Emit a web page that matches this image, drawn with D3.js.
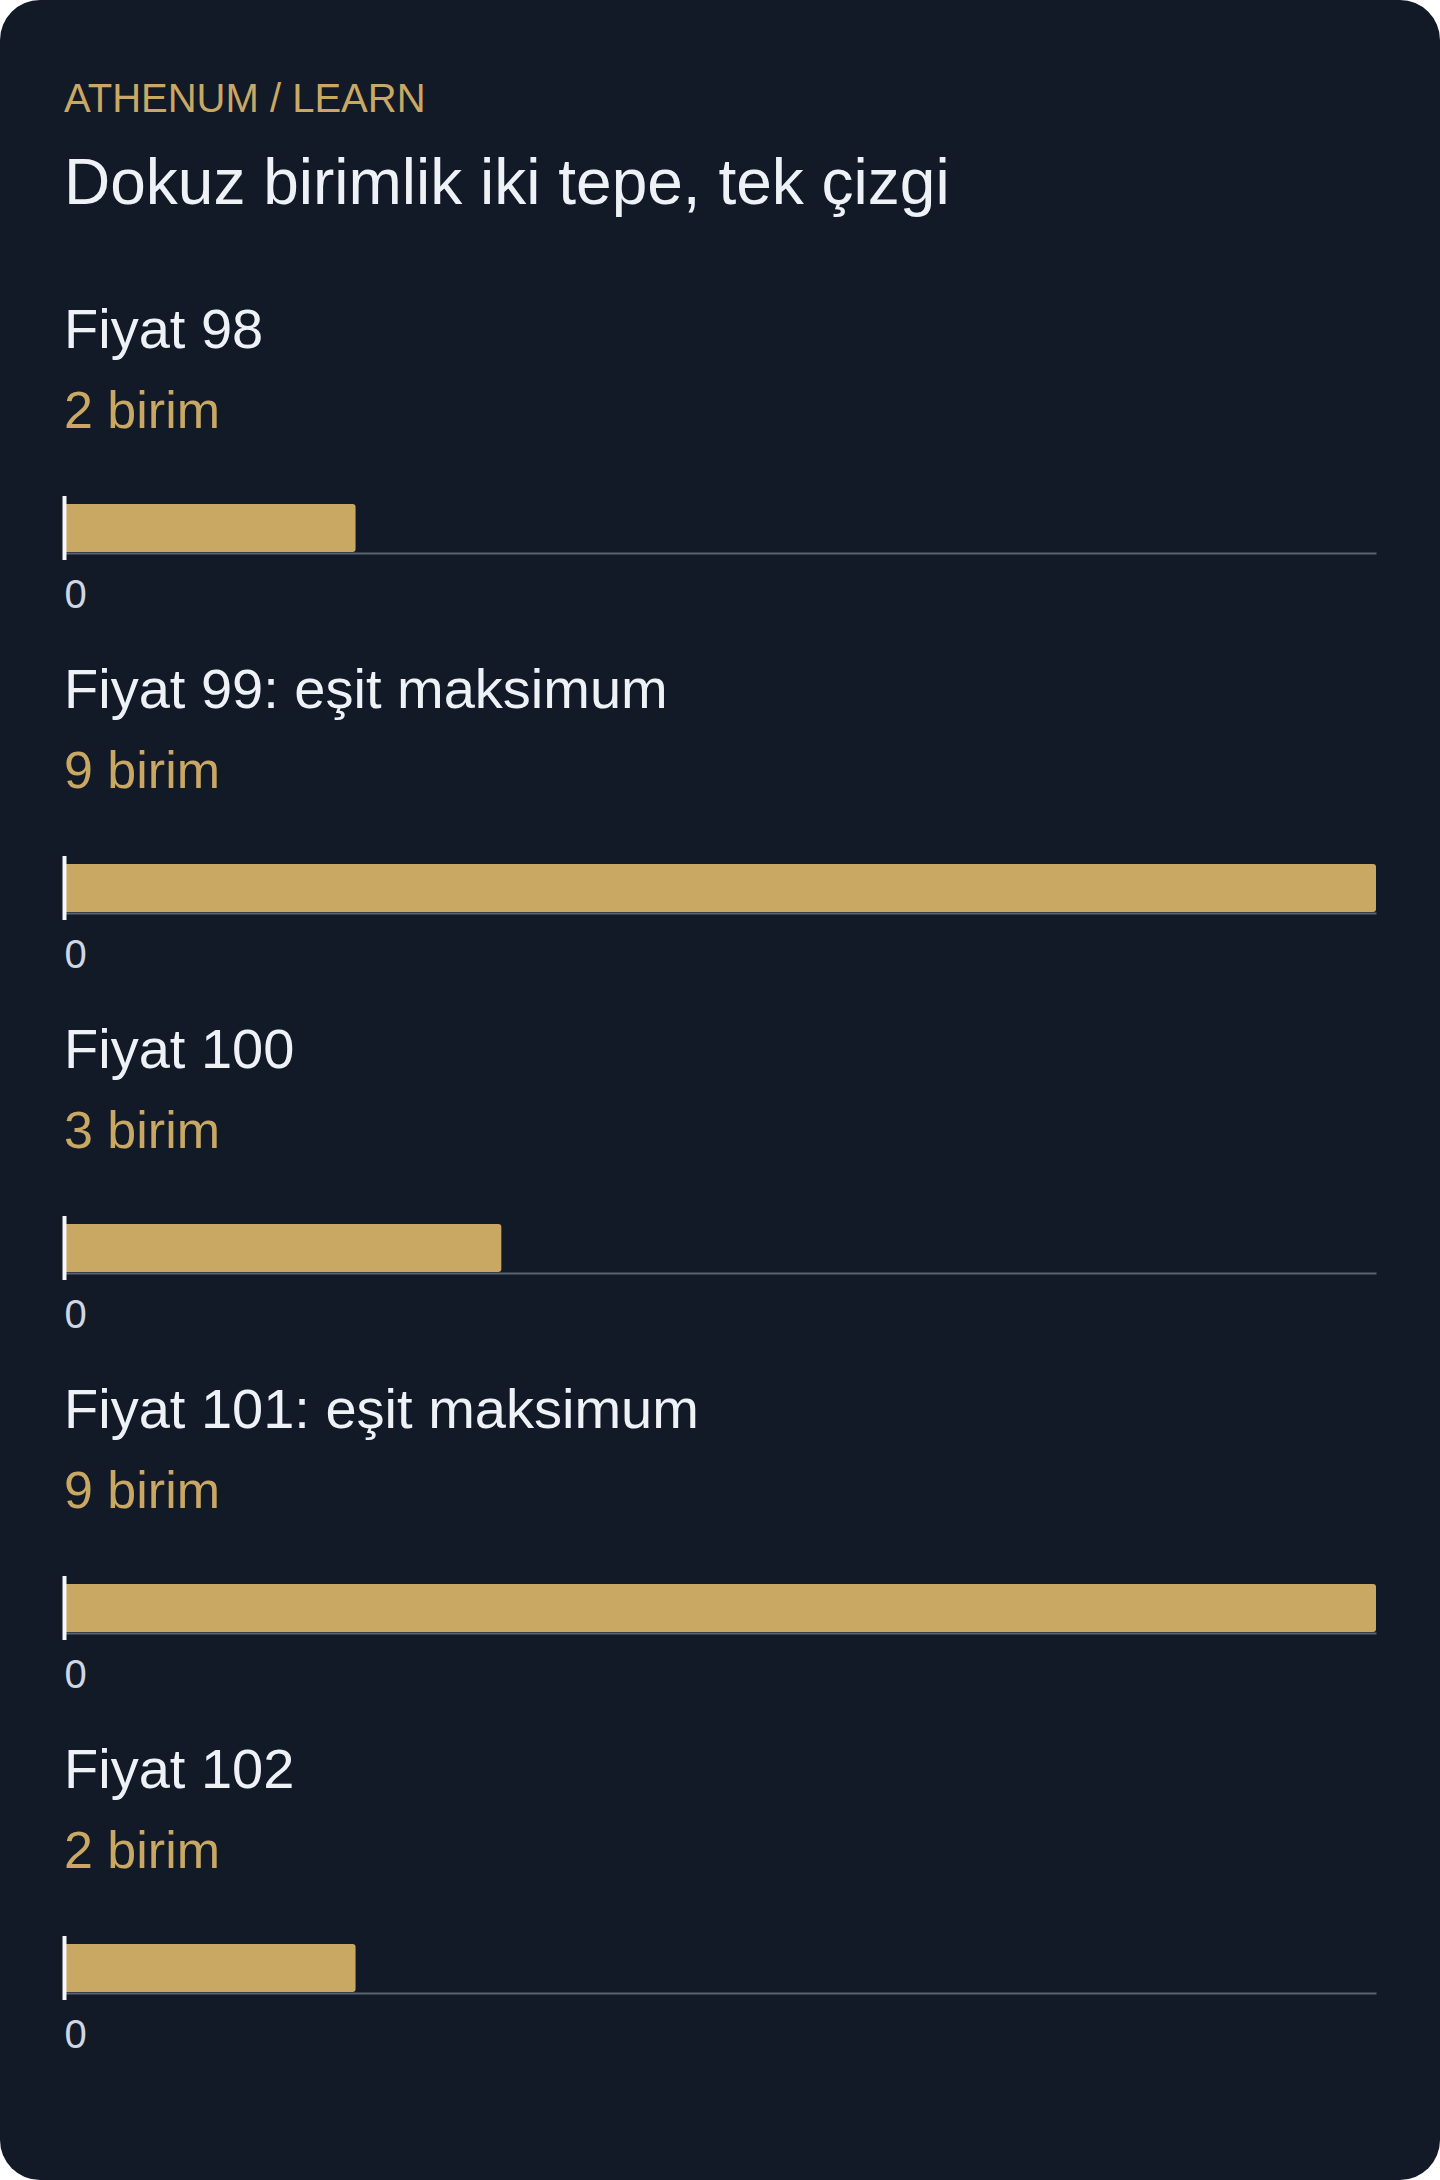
<!DOCTYPE html>
<html>
<head>
<meta charset="utf-8">
<script src="https://cdn.jsdelivr.net/npm/d3@7"></script>
<style>
  html, body { margin: 0; padding: 0; background: #ffffff; }
  svg { display: block; }
  text { font-family: "Liberation Sans", Arial, Helvetica, sans-serif; }
</style>
</head>
<body>
<div id="chart"></div>
<script>
const eyebrow = "ATHENUM / LEARN";
const title = "Dokuz birimlik iki tepe, tek çizgi";
const categories = ["Fiyat 98", "Fiyat 99: eşit maksimum", "Fiyat 100", "Fiyat 101: eşit maksimum", "Fiyat 102"];
const values = [2, 9, 3, 9, 2];
const valueLabels = ["2 birim", "9 birim", "3 birim", "9 birim", "2 birim"];
const tickValues = [0];
const domainMax = 9;

const W = 1440, H = 2180;
const left = 64, right = 1376;
const rowStep = 360;

const svg = d3.select("#chart").append("svg")
  .attr("width", W).attr("height", H);

svg.append("rect")
  .attr("x", 0).attr("y", 0).attr("width", W).attr("height", H)
  .attr("rx", 40).attr("ry", 40)
  .attr("fill", "#121927");

svg.append("text")
  .attr("x", left).attr("y", 112)
  .attr("fill", "#c9a864")
  .attr("font-size", 40)
  .text(eyebrow);

svg.append("text")
  .attr("x", left).attr("y", 204)
  .attr("fill", "#eef2f7")
  .attr("font-size", 64)
  .text(title);

const x = d3.scaleLinear().domain([0, domainMax]).range([left, right]);

const rows = svg.selectAll("g.row")
  .data(categories.map((c, i) => ({ c, v: values[i], lab: valueLabels[i], i })))
  .join("g")
  .attr("class", "row")
  .attr("transform", d => `translate(0, ${d.i * rowStep})`);

rows.append("text")
  .attr("x", left).attr("y", 348)
  .attr("fill", "#eef2f7")
  .attr("font-size", 56)
  .text(d => d.c);

rows.append("text")
  .attr("x", left).attr("y", 428)
  .attr("fill", "#c9a864")
  .attr("font-size", 52)
  .text(d => d.lab);

rows.append("rect")
  .attr("x", x(0))
  .attr("y", 504)
  .attr("width", d => x(d.v) - x(0))
  .attr("height", 48)
  .attr("rx", 3).attr("ry", 3)
  .attr("fill", "#c9a864");

rows.each(function () {
  const g = d3.select(this).append("g")
    .attr("transform", "translate(0, 553)")
    .call(d3.axisBottom(x).tickValues(tickValues).tickSize(0).tickFormat(d3.format("d")));
  g.select(".domain").attr("stroke", "#5b6472").attr("stroke-width", 2);
  g.selectAll(".tick text")
    .attr("fill", "#cfd6e0")
    .attr("font-size", 40)
    .attr("font-family", "\"Liberation Sans\", Arial, sans-serif")
    .attr("text-anchor", "start")
    .attr("dy", null)
    .attr("y", 55);
  g.selectAll(".tick").append("line")
    .attr("y1", -57).attr("y2", 7)
    .attr("stroke", "#f5f7fa").attr("stroke-width", 4);
});
</script>
</body>
</html>
